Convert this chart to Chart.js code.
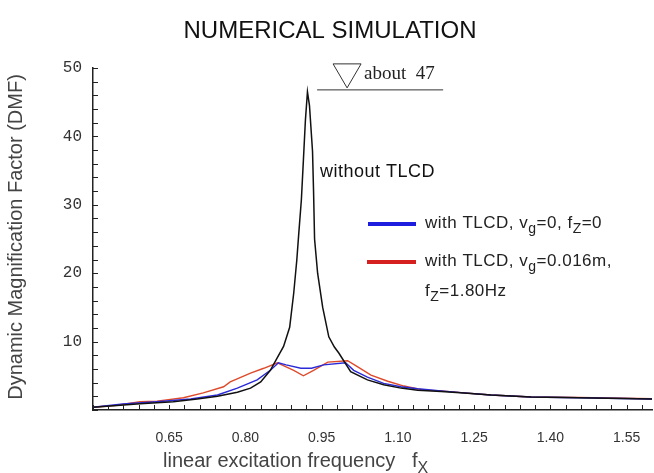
<!DOCTYPE html>
<html>
<head>
<meta charset="utf-8">
<script src="https://cdn.jsdelivr.net/npm/chart.js@4/dist/chart.umd.min.js"></script>
<style>
  html, body { margin: 0; padding: 0; background: #fff; }
  #wrap { width: 654px; height: 473px; position: relative; }
</style>
</head>
<body>
<div id="wrap"><canvas id="chart" width="654" height="473"></canvas></div>
<script>
// ---------- Data ----------
const freqBlack = [0.50, 0.534, 0.593, 0.658, 0.705, 0.745, 0.784, 0.81, 0.83, 0.849, 0.863, 0.875, 0.887, 0.895, 0.901, 0.905, 0.910, 0.914, 0.918, 0.922, 0.926, 0.932, 0.934, 0.936, 0.942, 0.952, 0.964, 0.975, 0.984, 1.007, 1.04, 1.072, 1.106, 1.139, 1.185, 1.23, 1.283, 1.362, 1.455, 1.60];
const dmfBlack  = [0.4, 0.6, 0.9, 1.2, 1.6, 2.0, 2.6, 3.2, 4.1, 5.8, 7.7, 9.3, 12.1, 17.1, 21.9, 25.9, 30.7, 36.5, 42.4, 46.5, 44.5, 37.8, 32.0, 25.0, 20.0, 15.0, 10.7, 9.2, 8.3, 5.6, 4.4, 3.7, 3.2, 2.9, 2.7, 2.5, 2.2, 1.9, 1.8, 1.6];

const freqBlue = [0.50, 0.559, 0.626, 0.692, 0.745, 0.784, 0.823, 0.849, 0.865, 0.88, 0.909, 0.93, 0.954, 0.997, 1.013, 1.04, 1.072, 1.106, 1.139, 1.185, 1.23, 1.283, 1.362, 1.455, 1.60];
const dmfBlue  = [0.4, 0.9, 1.2, 1.6, 2.2, 3.2, 4.4, 5.8, 6.9, 6.6, 6.1, 6.1, 6.6, 6.9, 5.8, 4.8, 3.9, 3.4, 3.1, 2.8, 2.5, 2.2, 1.9, 1.8, 1.6];

const freqRed = [0.50, 0.547, 0.593, 0.626, 0.678, 0.717, 0.757, 0.77, 0.81, 0.836, 0.863, 0.88, 0.895, 0.914, 0.934, 0.962, 1.001, 1.021, 1.047, 1.08, 1.112, 1.151, 1.185, 1.23, 1.283, 1.362, 1.455, 1.60];
const dmfRed  = [0.4, 0.7, 1.2, 1.3, 1.8, 2.5, 3.4, 4.1, 5.4, 6.1, 6.9, 6.3, 5.8, 5.0, 5.8, 7.0, 7.2, 6.3, 5.1, 4.2, 3.5, 2.9, 2.8, 2.5, 2.2, 1.9, 1.85, 1.65];

const xTickLabels = ["0.65", "0.80", "0.95", "1.10", "1.25", "1.40", "1.55"];
const yTickLabels = ["10", "20", "30", "40", "50"];

// "about 47" marker: level line and triangle anchor (data units)
const aboutLevel = 46.8;
const aboutFrom = 0.941, aboutTo = 1.189, aboutTri = 1.0;

// ---------- Helpers ----------
const pts = (xs, ys) => xs.map((x, i) => ({ x, y: ys[i] }));

// draws text pieces; a piece [txt, true] is a subscript
function drawRich(ctx, parts, x, y, size) {
  let cx = x;
  parts.forEach(([txt, sub]) => {
    ctx.font = `${sub ? Math.round(size * 0.8) : size}px "Liberation Sans", Arial, sans-serif`;
    ctx.fillText(txt, cx, sub ? y + size * 0.3 : y);
    cx += ctx.measureText(txt).width;
  });
}

// ---------- Plugins ----------
const inwardTicks = {
  id: "inwardTicks",
  afterDraw(chart) {
    const { ctx, chartArea: a, scales: { x, y } } = chart;
    ctx.save();
    ctx.strokeStyle = "#222";
    ctx.lineWidth = 1;
    ctx.beginPath();
    x.ticks.forEach((t) => {
      const px = Math.round(x.getPixelForValue(t.value)) + 0.5;
      ctx.moveTo(px, a.bottom); ctx.lineTo(px, a.bottom - 5);
    });
    y.ticks.forEach((t) => {
      const py = Math.round(y.getPixelForValue(t.value)) + 0.5;
      ctx.moveTo(a.left, py); ctx.lineTo(a.left + 5, py);
    });
    ctx.stroke();
    ctx.restore();
  }
};

const textsPlugin = {
  id: "texts",
  afterDraw(chart) {
    const { ctx, scales: { x, y } } = chart;
    ctx.save();
    ctx.fillStyle = "#111";
    ctx.textBaseline = "alphabetic";

    // title
    ctx.font = '24px "Liberation Sans", Arial, sans-serif';
    ctx.textAlign = "center";
    ctx.fillText("NUMERICAL SIMULATION", 330, 38);

    // y axis title
    ctx.save();
    ctx.translate(22, 237);
    ctx.rotate(-Math.PI / 2);
    ctx.fillStyle = "#444";
    ctx.font = '20px "Liberation Sans", Arial, sans-serif';
    ctx.fillText("Dynamic Magnification Factor (DMF)", 0, 0);
    ctx.restore();

    // x axis title
    ctx.textAlign = "left";
    ctx.fillStyle = "#444";
    drawRich(ctx, [["linear excitation frequency   f", false], ["X", true]], 163, 467, 20);

    // "about 47" marker
    const ly = y.getPixelForValue(aboutLevel);
    ctx.strokeStyle = "#333";
    ctx.lineWidth = 1;
    ctx.beginPath();
    ctx.moveTo(x.getPixelForValue(aboutFrom), ly);
    ctx.lineTo(x.getPixelForValue(aboutTo), ly);
    const tx = x.getPixelForValue(aboutTri);
    ctx.moveTo(tx, ly - 2);
    ctx.lineTo(tx - 14, ly - 26);
    ctx.lineTo(tx + 14, ly - 26);
    ctx.closePath();
    ctx.stroke();
    ctx.fillStyle = "#222";
    ctx.font = '19px "Liberation Serif", "Times New Roman", serif';
    ctx.fillText("about  47", tx + 17, ly - 11);

    // curve label
    ctx.fillStyle = "#111";
    ctx.letterSpacing = "0.5px";
    ctx.font = '18px "Liberation Sans", Arial, sans-serif';
    ctx.fillText("without TLCD", 320, 177);

    // legend
    ctx.lineWidth = 4;
    ctx.strokeStyle = "#1d1de0";
    ctx.beginPath(); ctx.moveTo(368, 224); ctx.lineTo(416, 224); ctx.stroke();
    ctx.strokeStyle = "#d61f1f";
    ctx.beginPath(); ctx.moveTo(367, 262); ctx.lineTo(416, 262); ctx.stroke();
    ctx.fillStyle = "#222";
    drawRich(ctx, [["with TLCD, v", false], ["g", true], ["=0, f", false], ["Z", true], ["=0", false]], 425, 228, 17);
    drawRich(ctx, [["with TLCD, v", false], ["g", true], ["=0.016m,", false]], 425, 266, 17);
    drawRich(ctx, [["f", false], ["Z", true], ["=1.80Hz", false]], 425, 296, 17);
    ctx.restore();
  }
};

// ---------- Chart ----------
const ds = (label, data, color, width) => ({
  label, data, borderColor: color, borderWidth: width,
  showLine: true, pointRadius: 0, tension: 0, fill: false
});

new Chart(document.getElementById("chart").getContext("2d"), {
  type: "scatter",
  data: {
    datasets: [
      ds("without TLCD", pts(freqBlack, dmfBlack), "#111", 1.5),
      ds("with TLCD, vg=0, fz=0", pts(freqBlue, dmfBlue), "#2a2ad8", 1.4),
      ds("with TLCD, vg=0.016m, fz=1.80Hz", pts(freqRed, dmfRed), "#de4a2c", 1.4)
    ]
  },
  options: {
    responsive: false,
    animation: false,
    layout: { padding: { top: 68, right: 2, left: 0, bottom: 0 } },
    plugins: { legend: { display: false }, tooltip: { enabled: false } },
    scales: {
      x: {
        type: "linear", min: 0.5, max: 1.6,
        grid: { display: false, drawTicks: false },
        border: { display: true, color: "#222", width: 1.5 },
        afterBuildTicks: (s) => {
          // minor ticks every 0.03 starting at the axis origin
          const t = [];
          for (let k = 0; k <= 36; k++) t.push({ value: +(0.5 + 0.03 * k).toFixed(2) });
          s.ticks = t;
        },
        afterFit: (s) => { s.height = 63; s.paddingLeft = 0; s.paddingRight = 0; },
        ticks: {
          autoSkip: false, maxRotation: 0, padding: 20,
          color: "#333", font: { family: '"Liberation Sans", Arial, sans-serif', size: 14 },
          callback: (v) => xTickLabels.find((l) => Math.abs(+l - v) < 1e-6) || ""
        }
      },
      y: {
        min: 0, max: 50,
        grid: { display: false, drawTicks: false },
        border: { display: true, color: "#222", width: 1.5 },
        afterFit: (s) => { s.width = 93; },
        ticks: {
          stepSize: 2, autoSkip: false, padding: 11,
          color: "#333", font: { family: '"Liberation Mono", "DejaVu Sans Mono", monospace', size: 16 },
          callback: (v) => yTickLabels.find((l) => +l === v) || ""
        }
      }
    }
  },
  plugins: [inwardTicks, textsPlugin]
});
</script>
</body>
</html>
